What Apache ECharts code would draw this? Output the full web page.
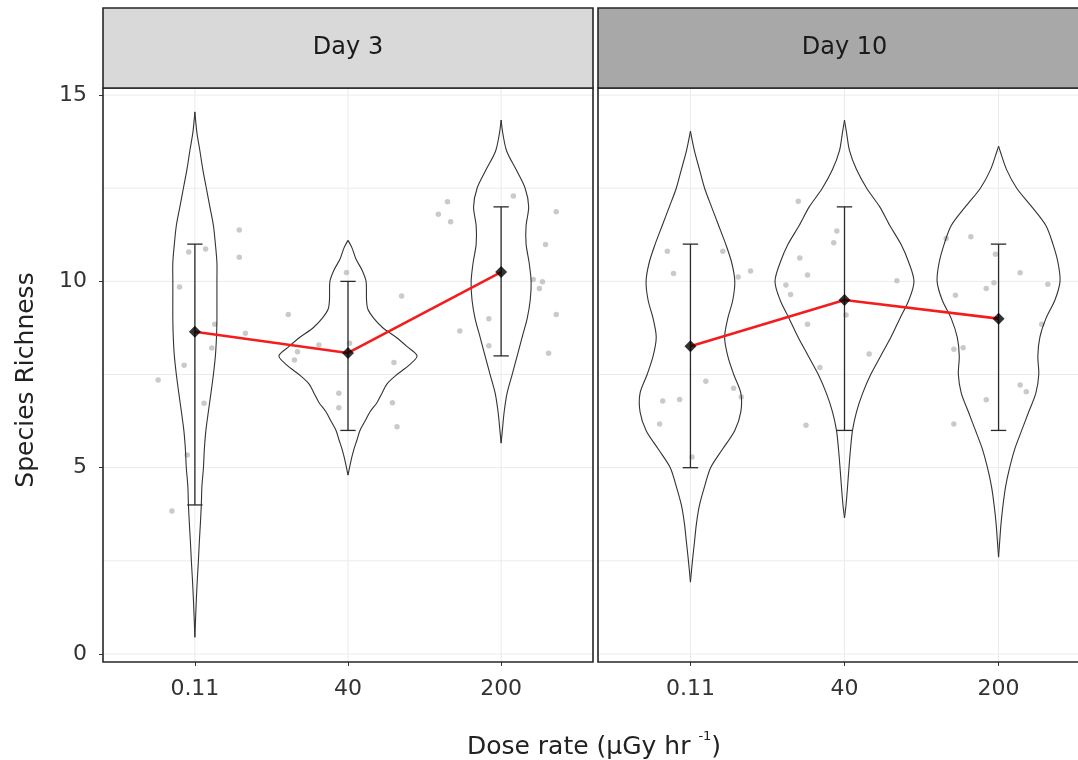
<!DOCTYPE html>
<html><head><meta charset="utf-8">
<script src="https://cdn.jsdelivr.net/npm/echarts@6/dist/echarts.min.js"></script>
<style>html,body{margin:0;padding:0;background:#fff;overflow:hidden}#c{width:1078px;height:760px}</style>
</head><body><div id="c"></div>
<script>
// ---------- data ----------
const dayTitles = ['Day 3', 'Day 10'];
const doseLabels = ['0.11', '40', '200'];
const yTickValues = [0, 5, 10, 15];
const yMinorGridValues = [2.5, 7.5, 12.5];

const meanDay3 = [8.65, 8.08, 10.25];
const lowDay3 = [4, 6, 8];
const highDay3 = [11, 10, 12];
const meanDay10 = [8.26, 9.5, 9.0];
const lowDay10 = [5, 6, 6];
const highDay10 = [11, 12, 11];

// violin outlines: [richness, half-width in category units]
const violinDay3Dose011 = [[14.55,0],[14,0.013],[13.5,0.033],[13,0.052],[12.5,0.075],[12,0.098],[11.5,0.121],[11,0.134],[10.5,0.144],[10,0.144],[9.5,0.144],[9,0.144],[8.5,0.141],[8,0.134],[7.5,0.121],[7,0.105],[6.5,0.088],[6,0.072],[5.5,0.062],[5,0.056],[4.5,0.046],[4,0.042],[3.5,0.036],[3,0.029],[2.5,0.023],[2,0.016],[1.5,0.010],[1,0.005],[0.45,0]];
const violinDay3Dose40 = [[11.1,0],[10.9,0.026],[10.6,0.052],[10.3,0.092],[10,0.118],[9.5,0.121],[9.25,0.13],[9,0.17],[8.75,0.229],[8.5,0.314],[8.25,0.386],[8,0.451],[7.75,0.399],[7.5,0.32],[7.25,0.255],[7,0.222],[6.75,0.19],[6.5,0.144],[6.25,0.111],[6,0.078],[5.75,0.059],[5.5,0.039],[5.25,0.023],[5,0.010],[4.8,0]];
const violinDay3Dose200 = [[14.33,0],[14,0.010],[13.5,0.036],[13,0.098],[12.5,0.157],[12,0.18],[11.5,0.163],[11,0.163],[10.5,0.183],[10,0.196],[9.5,0.19],[9,0.17],[8.5,0.137],[8,0.105],[7.5,0.072],[7,0.039],[6.5,0.02],[6,0.008],[5.66,0]];
const violinDay10Dose011 = [[14.03,0],[13.5,0.026],[13,0.059],[12.5,0.092],[12,0.137],[11.5,0.183],[11,0.229],[10.5,0.268],[10,0.288],[9.5,0.275],[9,0.242],[8.5,0.222],[8,0.242],[7.5,0.281],[7,0.327],[6.5,0.327],[6,0.288],[5.5,0.209],[5,0.131],[4.5,0.092],[4,0.059],[3.5,0.039],[3,0.026],[2.5,0.013],[1.93,0]];
const violinDay10Dose40 = [[14.33,0],[14,0.013],[13.5,0.033],[13,0.078],[12.5,0.144],[12,0.229],[11.5,0.294],[11,0.366],[10.5,0.418],[10,0.451],[9.5,0.418],[9,0.359],[8.5,0.301],[8,0.235],[7.5,0.17],[7,0.118],[6.5,0.078],[6,0.052],[5.5,0.039],[5,0.029],[4.5,0.02],[4,0.01],[3.65,0]];
const violinDay10Dose200 = [[13.63,0],[13.5,0.01],[13,0.052],[12.5,0.118],[12,0.216],[11.5,0.307],[11,0.353],[10.5,0.386],[10,0.399],[9.5,0.366],[9,0.307],[8.5,0.268],[8,0.255],[7.5,0.261],[7,0.242],[6.5,0.196],[6,0.15],[5.5,0.105],[5,0.072],[4.5,0.046],[4,0.029],[3.5,0.016],[3,0.007],[2.6,0]];

// jittered raw observations: [dose index, jitter, richness]
const pointsDay3 = [
  [0,0.29,11.38],[0,0.29,10.65],[0,-0.04,10.79],[0,0.07,10.87],[0,-0.10,9.85],[0,0.13,8.85],[0,0.33,8.61],[0,0.11,8.21],[0,-0.07,7.75],[0,-0.24,7.35],[0,0.06,6.73],[0,-0.05,5.34],[0,-0.15,3.84],
  [1,-0.39,9.11],[1,-0.19,8.29],[1,-0.33,8.11],[1,-0.35,7.89],[1,-0.06,7.0],[1,-0.06,6.61],[1,-0.01,10.24],[1,0.01,8.34],[1,0.35,9.61],[1,0.30,7.82],[1,0.29,6.74],[1,0.32,6.1],
  [2,-0.35,12.14],[2,-0.41,11.8],[2,-0.33,11.6],[2,0.08,12.29],[2,0.36,11.87],[2,0.29,10.99],[2,0.21,10.05],[2,0.27,9.99],[2,0.25,9.81],[2,0.36,9.11],[2,-0.08,9.0],[2,-0.27,8.67],[2,-0.08,8.27],[2,0.31,8.07]
];
const pointsDay10 = [
  [0,-0.15,10.81],[0,-0.11,10.21],[0,0.21,10.81],[0,0.31,10.12],[0,0.39,10.28],[0,0.10,7.32],[0,0.28,7.13],[0,0.33,6.9],[0,-0.18,6.79],[0,-0.07,6.83],[0,-0.20,6.17],[0,0.01,5.29],
  [1,-0.30,12.15],[1,-0.05,11.35],[1,-0.07,11.04],[1,-0.29,10.63],[1,-0.24,10.17],[1,-0.38,9.9],[1,-0.35,9.65],[1,-0.24,8.85],[1,-0.16,7.69],[1,-0.25,6.14],[1,0.34,10.02],[1,0.01,9.1],[1,0.16,8.05],
  [2,-0.34,11.15],[2,-0.18,11.2],[2,-0.02,10.73],[2,0.14,10.23],[2,0.32,9.92],[2,-0.03,9.96],[2,-0.08,9.81],[2,-0.28,9.63],[2,0.28,8.85],[2,-0.29,8.18],[2,-0.23,8.22],[2,0.14,7.22],[2,0.18,7.04],[2,-0.08,6.82],[2,-0.29,6.17]
];

// ---------- chart ----------
const FONT = 'DejaVu Sans';
const panels = [
  {mean: meanDay3, low: lowDay3, high: highDay3, violins: [violinDay3Dose011, violinDay3Dose40, violinDay3Dose200], points: pointsDay3},
  {mean: meanDay10, low: lowDay10, high: highDay10, violins: [violinDay10Dose011, violinDay10Dose40, violinDay10Dose200], points: pointsDay10}
];
const gridLayout = [{left: 103, width: 490, frameWidth: 490}, {left: 598, width: 493, frameWidth: 560}];
const PANEL_TOP = 88, PANEL_H = 574;
const stripFill = ['#d9d9d9', '#a8a8a8'];
const catIdx = doseLabels.map((_, i) => i);

const grids = gridLayout.map(g => ({left: g.left, width: g.width, top: PANEL_TOP, height: PANEL_H, show: false,
  outerBoundsMode: 'none', containLabel: false}));

const xAxes = panels.map((p, d) => ({
  type: 'value', gridIndex: d, min: -0.6, max: 2.6,
  axisLine: {show: false, onZero: false}, splitLine: {show: false},
  axisTick: {show: true, customValues: catIdx, length: 4, lineStyle: {color: '#333'}},
  axisLabel: {customValues: catIdx, formatter: v => doseLabels[Math.round(v)], fontFamily: FONT, fontSize: 22, color: '#333', margin: 16}
}));
const yAxes = panels.map((p, d) => ({
  type: 'value', gridIndex: d, min: -0.215, max: 15.19,
  axisLine: {show: false, onZero: false}, splitLine: {show: false},
  axisTick: {show: d === 0, customValues: yTickValues, length: 4, lineStyle: {color: '#333'}},
  axisLabel: {show: d === 0, customValues: yTickValues, fontFamily: FONT, fontSize: 22, color: '#333', margin: 16}
}));

function hGridRender(params, api) {
  const cs = params.coordSys;
  const p = api.coord([0, api.value(0)]);
  return {type: 'line', shape: {x1: cs.x, y1: p[1], x2: cs.x + cs.width, y2: p[1]}, style: {stroke: '#ebebeb', lineWidth: 1}};
}
function vGridRender(params, api) {
  const cs = params.coordSys;
  const p = api.coord([api.value(0), 0]);
  return {type: 'line', shape: {x1: p[0], y1: cs.y, x2: p[0], y2: cs.y + cs.height}, style: {stroke: '#ebebeb', lineWidth: 1}};
}
function violinRender(profiles) {
  return function (params, api) {
    const cat = api.value(0);
    const prof = profiles[params.dataIndex];
    const right = prof.map(p => api.coord([cat + p[1], p[0]]));
    const left = prof.map(p => api.coord([cat - p[1], p[0]]));
    const st = {fill: 'none', stroke: '#333', lineWidth: 1.1};
    return {type: 'group', children: [
      {type: 'polyline', shape: {points: right, smooth: 0.3}, style: st},
      {type: 'polyline', shape: {points: left, smooth: 0.3}, style: st}
    ]};
  };
}
function errRender(params, api) {
  const x = api.value(0), lo = api.value(1), hi = api.value(2);
  const cap = 0.05;
  const a = api.coord([x, lo]), b = api.coord([x, hi]);
  const l1 = api.coord([x - cap, lo]), r1 = api.coord([x + cap, lo]);
  const l2 = api.coord([x - cap, hi]), r2 = api.coord([x + cap, hi]);
  const st = {stroke: '#2a2a2a', lineWidth: 1.3};
  return {type: 'group', children: [
    {type: 'line', shape: {x1: a[0], y1: a[1], x2: b[0], y2: b[1]}, style: st},
    {type: 'line', shape: {x1: l1[0], y1: l1[1], x2: r1[0], y2: r1[1]}, style: st},
    {type: 'line', shape: {x1: l2[0], y1: l2[1], x2: r2[0], y2: r2[1]}, style: st}
  ]};
}

const series = [];
panels.forEach((p, d) => {
  series.push({type: 'custom', xAxisIndex: d, yAxisIndex: d, z: 0, silent: true,
    data: yTickValues.concat(yMinorGridValues).map(v => [v]), renderItem: hGridRender});
  series.push({type: 'custom', xAxisIndex: d, yAxisIndex: d, z: 0, silent: true,
    data: catIdx.map(v => [v]), renderItem: vGridRender});
  series.push({
    type: 'scatter', xAxisIndex: d, yAxisIndex: d, z: 1,
    data: p.points.map(q => [q[0] + q[1], q[2]]),
    symbolSize: 5.5, itemStyle: {color: '#bdbdbd', opacity: 0.8}
  });
  series.push({
    type: 'custom', xAxisIndex: d, yAxisIndex: d, z: 3,
    data: catIdx.map(i => [i]), renderItem: violinRender(p.violins)
  });
  series.push({
    type: 'custom', xAxisIndex: d, yAxisIndex: d, z: 4,
    data: catIdx.map(i => [i, p.low[i], p.high[i]]), renderItem: errRender
  });
  series.push({
    type: 'line', xAxisIndex: d, yAxisIndex: d, z: 5,
    data: catIdx.map(i => [i, p.mean[i]]), symbol: 'none',
    lineStyle: {color: '#f41c1c', width: 2.6}
  });
  series.push({
    type: 'scatter', xAxisIndex: d, yAxisIndex: d, z: 6,
    data: catIdx.map(i => [i, p.mean[i]]), symbol: 'diamond', symbolSize: 12,
    itemStyle: {color: '#000'}
  });
});

const graphics = [];
gridLayout.forEach((g, d) => {
  graphics.push({type: 'rect', shape: {x: g.left, y: PANEL_TOP, width: g.frameWidth, height: PANEL_H},
    style: {fill: 'none', stroke: '#262626', lineWidth: 1.6}, z: 10, silent: true});
  graphics.push({type: 'rect', shape: {x: g.left, y: 8, width: g.frameWidth, height: 80},
    style: {fill: stripFill[d], stroke: '#262626', lineWidth: 1.6}, z: 10});
  graphics.push({type: 'text', x: g.left + g.width / 2, y: 48, z: 11,
    style: {text: dayTitles[d], font: '24px "' + FONT + '"', fill: '#1a1a1a', align: 'center', verticalAlign: 'middle'}});
});
graphics.push({type: 'text', x: 26, y: 380, rotation: Math.PI / 2, z: 11,
  style: {text: 'Species Richness', font: '25px "' + FONT + '"', fill: '#222', align: 'center', verticalAlign: 'middle'}});
graphics.push({type: 'text', x: 594, y: 745, z: 11,
  style: {text: '{a|Dose rate (µGy hr }{s|-1}{a|)}', align: 'center', verticalAlign: 'middle',
    rich: {a: {fontFamily: FONT, fontSize: 25, fill: '#222', lineHeight: 30, verticalAlign: 'bottom'},
           s: {fontFamily: FONT, fontSize: 13, fill: '#222', lineHeight: 15, verticalAlign: 'top'}}}});

const chart = echarts.init(document.getElementById('c'), null, {renderer: 'canvas'});
chart.setOption({animation: false, grid: grids, xAxis: xAxes, yAxis: yAxes, series: series, graphic: graphics});
</script></body></html>
